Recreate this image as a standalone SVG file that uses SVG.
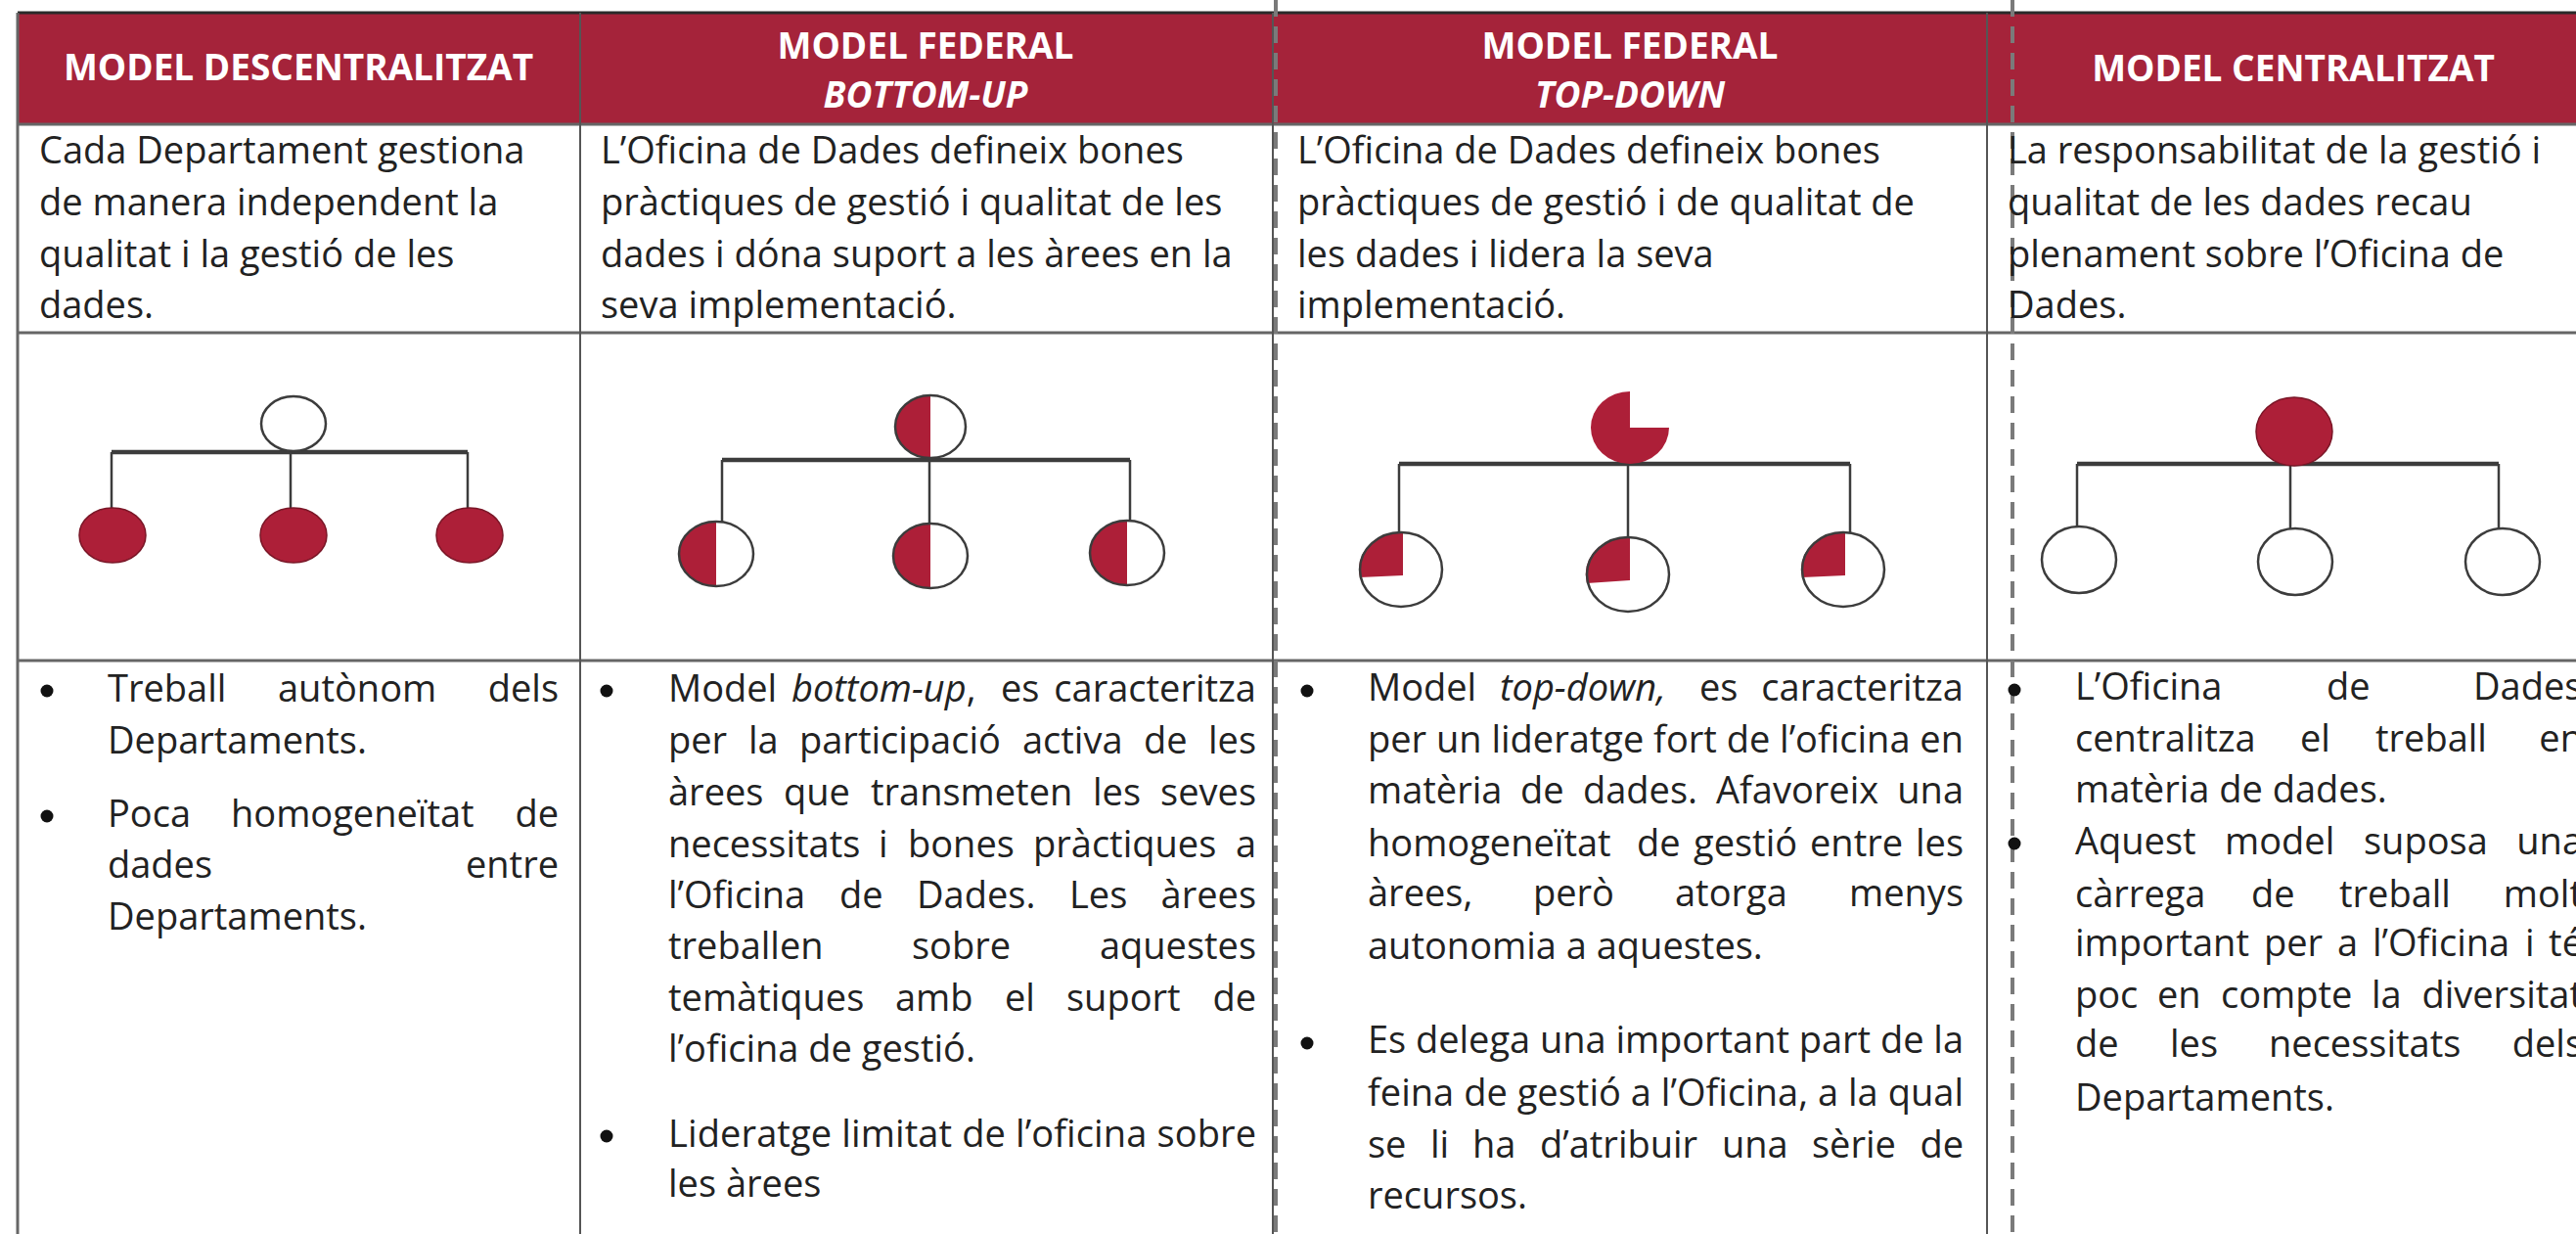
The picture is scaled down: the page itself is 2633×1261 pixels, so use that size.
<svg xmlns="http://www.w3.org/2000/svg" width="2633" height="1261" viewBox="0 0 2633 1261">
<style>
.hd{font-family:"Open Sans","Liberation Sans",sans-serif;font-weight:700;font-size:37px;fill:#fff;text-anchor:middle}
.tx{font-family:"Open Sans","Liberation Sans",sans-serif;font-size:38px;fill:#222}
.e{text-anchor:end}
.it{font-style:italic}
.grid{stroke:#666;stroke-width:3;fill:none}
.col{stroke:#555;stroke-width:2;fill:none}
.dash{stroke:#7a7a7a;stroke-width:4;stroke-dasharray:17 10;fill:none}
.bar{stroke:#3c3c3c;stroke-width:4.5;fill:none}
.stem{stroke:#3c3c3c;stroke-width:2.5;fill:none}
.ow{fill:#fff;stroke:#3c3c3c;stroke-width:2.5}
.on{fill:none;stroke:#3c3c3c;stroke-width:2.5}
.rf{fill:#AD1F38}
.rfs{fill:#AD1F38;stroke:#7a1526;stroke-width:1.5}
.dot{fill:#111}
</style>
<rect width="2633" height="1261" fill="#fff"/>
<g id="table">
<rect x="18" y="13" width="2640" height="114" fill="#A5233A"/>
<line x1="18" y1="13" x2="2633" y2="13" stroke="#2a2a2a" stroke-width="3"/>
<line class="grid" x1="18" y1="127" x2="2633" y2="127"/>
<line class="grid" x1="18" y1="340" x2="2633" y2="340"/>
<line class="grid" x1="18" y1="675" x2="2633" y2="675"/>
<line class="grid" x1="18" y1="13" x2="18" y2="1261"/>
<line class="col" x1="593" y1="13" x2="593" y2="1261"/>
<line class="col" x1="1301" y1="13" x2="1301" y2="1261"/>
<line class="col" x1="2031" y1="13" x2="2031" y2="1261"/>
<line class="dash" x1="1304" y1="0" x2="1304" y2="1261"/>
<line class="dash" x1="2057" y1="0" x2="2057" y2="1261"/>
</g>
<g id="headers">
<text class="hd" x="305" y="82">MODEL DESCENTRALITZAT</text>
<text class="hd" x="946" y="60">MODEL FEDERAL</text>
<text class="hd it" x="946" y="110">BOTTOM-UP</text>
<text class="hd" x="1666" y="60">MODEL FEDERAL</text>
<text class="hd it" x="1666" y="110">TOP-DOWN</text>
<text class="hd" x="2344" y="83">MODEL CENTRALITZAT</text>
</g>
<g id="descriptions" class="tx">
<text x="40" y="167">Cada Departament gestiona</text>
<text x="40" y="220">de manera independent la</text>
<text x="40" y="273">qualitat i la gestió de les</text>
<text x="40" y="325">dades.</text>
<text x="614" y="167">L’Oficina de Dades defineix bones</text>
<text x="614" y="220">pràctiques de gestió i qualitat de les</text>
<text x="614" y="273">dades i dóna suport a les àrees en la</text>
<text x="614" y="325">seva implementació.</text>
<text x="1326" y="167">L’Oficina de Dades defineix bones</text>
<text x="1326" y="220">pràctiques de gestió i de qualitat de</text>
<text x="1326" y="273">les dades i lidera la seva</text>
<text x="1326" y="325">implementació.</text>
<text x="2052" y="167">La responsabilitat de la gestió i</text>
<text x="2052" y="220">qualitat de les dades recau</text>
<text x="2052" y="273">plenament sobre l’Oficina de</text>
<text x="2052" y="325">Dades.</text>
</g>
<g id="connectors">
<line class="bar" x1="114" y1="462" x2="478" y2="462"/>
<line class="stem" x1="114" y1="462" x2="114" y2="520"/>
<line class="stem" x1="297" y1="462" x2="297" y2="520"/>
<line class="stem" x1="478" y1="462" x2="478" y2="520"/>
<line class="bar" x1="738" y1="470" x2="1155" y2="470"/>
<line class="stem" x1="738" y1="470" x2="738" y2="534"/>
<line class="stem" x1="950" y1="440" x2="950" y2="536"/>
<line class="stem" x1="1155" y1="470" x2="1155" y2="533"/>
<line class="bar" x1="1430" y1="474" x2="1891" y2="474"/>
<line class="stem" x1="1430" y1="474" x2="1430" y2="545"/>
<line class="stem" x1="1664" y1="474" x2="1664" y2="550"/>
<line class="stem" x1="1891" y1="474" x2="1891" y2="545"/>
<line class="bar" x1="2123" y1="474" x2="2554" y2="474"/>
<line class="stem" x1="2123" y1="474" x2="2123" y2="539"/>
<line class="stem" x1="2341" y1="474" x2="2341" y2="541"/>
<line class="stem" x1="2554" y1="474" x2="2554" y2="541"/>
</g>
<g id="diagram-descentralitzat">
<ellipse class="ow" cx="300" cy="433" rx="33" ry="28"/>
<ellipse class="rfs" cx="115" cy="547" rx="34" ry="28"/>
<ellipse class="rfs" cx="300" cy="547" rx="34" ry="28"/>
<ellipse class="rfs" cx="480" cy="547" rx="34" ry="28"/>
</g>
<g id="diagram-bottom-up">
<ellipse fill="#fff" cx="951" cy="436" rx="36" ry="32"/>
<path class="rf" d="M951 404 A36 32 0 0 0 951 468 Z"/>
<ellipse class="on" cx="951" cy="436" rx="36" ry="32"/>
<ellipse fill="#fff" cx="732" cy="566" rx="38" ry="33"/>
<path class="rf" d="M732 533 A38 33 0 0 0 732 599 Z"/>
<ellipse class="on" cx="732" cy="566" rx="38" ry="33"/>
<ellipse fill="#fff" cx="951" cy="568" rx="38" ry="33"/>
<path class="rf" d="M951 535 A38 33 0 0 0 951 601 Z"/>
<ellipse class="on" cx="951" cy="568" rx="38" ry="33"/>
<ellipse fill="#fff" cx="1152" cy="565" rx="38" ry="33"/>
<path class="rf" d="M1152 532 A38 33 0 0 0 1152 598 Z"/>
<ellipse class="on" cx="1152" cy="565" rx="38" ry="33"/>
</g>
<g id="diagram-top-down">
<path class="rf" d="M1666 437 L1666 400 A40 37 0 1 0 1706 437 Z"/>
<ellipse fill="#fff" cx="1432" cy="582" rx="42" ry="38"/>
<path class="rf" d="M1434 588 L1434 544 A42 38 0 0 0 1390 590 Z"/>
<ellipse class="on" cx="1432" cy="582" rx="42" ry="38"/>
<ellipse fill="#fff" cx="1664" cy="587" rx="42" ry="38"/>
<path class="rf" d="M1666 593 L1666 549 A42 38 0 0 0 1622 596 Z"/>
<ellipse class="on" cx="1664" cy="587" rx="42" ry="38"/>
<ellipse fill="#fff" cx="1884" cy="582" rx="42" ry="38"/>
<path class="rf" d="M1886 588 L1886 544 A42 38 0 0 0 1842 590 Z"/>
<ellipse class="on" cx="1884" cy="582" rx="42" ry="38"/>
</g>
<g id="diagram-centralitzat">
<ellipse class="rfs" cx="2345" cy="441" rx="39" ry="35"/>
<ellipse class="ow" cx="2125" cy="572" rx="38" ry="34"/>
<ellipse class="ow" cx="2346" cy="574" rx="38" ry="34"/>
<ellipse class="ow" cx="2558" cy="574" rx="38" ry="34"/>
</g>
<g id="bullets-descentralitzat" class="tx">
<circle class="dot" cx="48" cy="706" r="6.5"/>
<circle class="dot" cx="48" cy="834" r="6.5"/>
<text y="717"><tspan x="110">Treball</tspan><tspan x="284">autònom</tspan><tspan x="571" class="e">dels</tspan></text>
<text x="110" y="770">Departaments.</text>
<text y="845"><tspan x="110">Poca</tspan><tspan x="236">homogeneïtat</tspan><tspan x="571" class="e">de</tspan></text>
<text y="897"><tspan x="110">dades</tspan><tspan x="571" class="e">entre</tspan></text>
<text x="110" y="950">Departaments.</text>
</g>
<g id="bullets-bottom-up" class="tx">
<circle class="dot" cx="620" cy="706" r="6.5"/>
<circle class="dot" cx="620" cy="1161" r="6.5"/>
<text y="717"><tspan x="683">Model</tspan><tspan x="809"><tspan class="it">bottom-up</tspan>,</tspan><tspan x="1023">es</tspan><tspan x="1284" class="e">caracteritza</tspan></text>
<text y="770"><tspan x="683">per</tspan><tspan x="765">la</tspan><tspan x="817">participació</tspan><tspan x="1045">activa</tspan><tspan x="1169">de</tspan><tspan x="1284" class="e">les</tspan></text>
<text y="823"><tspan x="683">àrees</tspan><tspan x="801">que</tspan><tspan x="890">transmeten</tspan><tspan x="1117">les</tspan><tspan x="1284" class="e">seves</tspan></text>
<text y="876"><tspan x="683">necessitats</tspan><tspan x="898">i</tspan><tspan x="928">bones</tspan><tspan x="1056">pràctiques</tspan><tspan x="1284" class="e">a</tspan></text>
<text y="928"><tspan x="683">l’Oficina</tspan><tspan x="858">de</tspan><tspan x="937">Dades.</tspan><tspan x="1093">Les</tspan><tspan x="1284" class="e">àrees</tspan></text>
<text y="980"><tspan x="683">treballen</tspan><tspan x="932">sobre</tspan><tspan x="1284" class="e">aquestes</tspan></text>
<text y="1033"><tspan x="683">temàtiques</tspan><tspan x="915">amb</tspan><tspan x="1027">el</tspan><tspan x="1090">suport</tspan><tspan x="1284" class="e">de</tspan></text>
<text x="683" y="1085">l’oficina de gestió.</text>
<text x="683" y="1172" textLength="601" lengthAdjust="spacing">Lideratge limitat de l’oficina sobre</text>
<text x="683" y="1223">les àrees</text>
</g>
<g id="bullets-top-down" class="tx">
<circle class="dot" cx="1336" cy="706" r="6.5"/>
<circle class="dot" cx="1336" cy="1066" r="6.5"/>
<text y="716"><tspan x="1398">Model</tspan><tspan x="1533" class="it">top-down,</tspan><tspan x="1737">es</tspan><tspan x="2007" class="e">caracteritza</tspan></text>
<text x="1398" y="769" textLength="609" lengthAdjust="spacing">per un lideratge fort de l’oficina en</text>
<text y="821"><tspan x="1398">matèria</tspan><tspan x="1554">de</tspan><tspan x="1618">dades.</tspan><tspan x="1754">Afavoreix</tspan><tspan x="2007" class="e">una</tspan></text>
<text y="875"><tspan x="1398">homogeneïtat</tspan><tspan x="1673">de</tspan><tspan x="1731">gestió</tspan><tspan x="1850">entre</tspan><tspan x="2007" class="e">les</tspan></text>
<text y="926"><tspan x="1398">àrees,</tspan><tspan x="1567">però</tspan><tspan x="1712">atorga</tspan><tspan x="2007" class="e">menys</tspan></text>
<text x="1398" y="980">autonomia a aquestes.</text>
<text x="1398" y="1076" textLength="609" lengthAdjust="spacing">Es delega una important part de la</text>
<text x="1398" y="1130" textLength="609" lengthAdjust="spacing">feina de gestió a l’Oficina, a la qual</text>
<text y="1183"><tspan x="1398">se</tspan><tspan x="1462">li</tspan><tspan x="1505">ha</tspan><tspan x="1574">d’atribuir</tspan><tspan x="1760">una</tspan><tspan x="1852">sèrie</tspan><tspan x="2007" class="e">de</tspan></text>
<text x="1398" y="1235">recursos.</text>
</g>
<g id="bullets-centralitzat" class="tx">
<circle class="dot" cx="2059" cy="705" r="6.5"/>
<circle class="dot" cx="2059" cy="862" r="6.5"/>
<text y="715"><tspan x="2121">L’Oficina</tspan><tspan x="2378">de</tspan><tspan x="2528">Dades</tspan></text>
<text y="768"><tspan x="2121">centralitza</tspan><tspan x="2351">el</tspan><tspan x="2428">treball</tspan><tspan x="2640" class="e">en</tspan></text>
<text x="2121" y="820">matèria de dades.</text>
<text y="873"><tspan x="2121">Aquest</tspan><tspan x="2274">model</tspan><tspan x="2416">suposa</tspan><tspan x="2640" class="e">una</tspan></text>
<text y="927"><tspan x="2121">càrrega</tspan><tspan x="2301">de</tspan><tspan x="2391">treball</tspan><tspan x="2640" class="e">molt</tspan></text>
<text y="977"><tspan x="2121">important</tspan><tspan x="2314">per</tspan><tspan x="2389">a</tspan><tspan x="2425">l’Oficina</tspan><tspan x="2581">i</tspan><tspan x="2640" class="e">té</tspan></text>
<text y="1030"><tspan x="2121">poc</tspan><tspan x="2205">en</tspan><tspan x="2270">compte</tspan><tspan x="2424">la</tspan><tspan x="2640" class="e">diversitat</tspan></text>
<text y="1080"><tspan x="2121">de</tspan><tspan x="2218">les</tspan><tspan x="2319">necessitats</tspan><tspan x="2640" class="e">dels</tspan></text>
<text x="2121" y="1135">Departaments.</text>
</g>
</svg>
